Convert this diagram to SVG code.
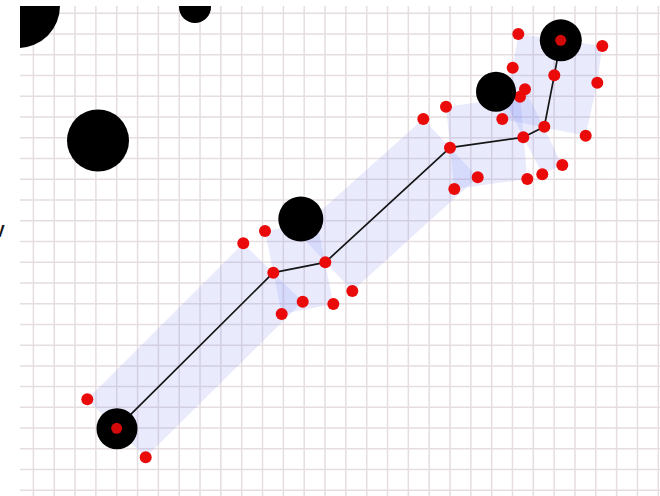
<svg xmlns="http://www.w3.org/2000/svg" width="660" height="496" viewBox="0 0 660 496">
<style>
.grid{stroke:#e6dde1;stroke-width:1.5;fill:none}
.strip{fill:#7480f0;fill-opacity:0.16;stroke:none}
.path{stroke:#151515;stroke-width:1.7;fill:none;stroke-linejoin:round}
.dot{fill:#ea0a0a}
.obs{fill:#000}
.cdot{fill:#d40a0a}
</style>
<defs>
<clipPath id="area"><rect x="20" y="6" width="640" height="490"/></clipPath>
</defs>
<rect x="0" y="0" width="660" height="496" fill="#fff"/>
<g id="grid" clip-path="url(#area)">
<path class="grid" d="M33.4 6V496M54.23 6V496M75.06 6V496M95.89 6V496M116.72 6V496M137.55 6V496M158.38 6V496M179.21 6V496M200.04 6V496M220.87 6V496M241.7 6V496M262.53 6V496M283.36 6V496M304.19 6V496M325.02 6V496M345.85 6V496M366.68 6V496M387.51 6V496M408.34 6V496M429.17 6V496M450 6V496M470.83 6V496M491.66 6V496M512.49 6V496M533.32 6V496M554.15 6V496M574.98 6V496M595.81 6V496M616.64 6V496M637.47 6V496M658.3 6V496"/>
<path class="grid" d="M20 13.3H660M20 34.04H660M20 54.78H660M20 75.52H660M20 96.26H660M20 117H660M20 137.74H660M20 158.48H660M20 179.22H660M20 199.96H660M20 220.7H660M20 241.44H660M20 262.18H660M20 282.92H660M20 303.66H660M20 324.4H660M20 345.14H660M20 365.88H660M20 386.62H660M20 407.36H660M20 428.1H660M20 448.84H660M20 469.58H660M20 490.32H660"/>
</g>
<text x="-6" y="237" font-family="Liberation Sans, Arial, sans-serif" font-weight="bold" font-size="16" fill="#111">V</text>
<g id="corridor">
<polygon class="strip" points="87.3,399.3 145.7,457.3 302.7,301.7 243.3,243.3"/>
<polygon class="strip" points="265,231 281.7,314 333.3,304 317,222"/>
<polygon class="strip" points="297.3,231.8 352.3,291 477.7,177.3 423.3,119"/>
<polygon class="strip" points="446,106.7 454.3,189 527.3,179 520,96.7"/>
<polygon class="strip" points="504.8,100.7 542.3,174.3 562.3,165 525,89.3"/>
<polygon class="strip" points="502.3,119 585.7,135.7 597.3,82.7 512.7,67.7"/>
<polygon class="strip" points="512.7,67.7 597.3,82.7 602.3,46 518.3,34"/>
</g>
<g id="connectors">
<polyline class="path" points="116.7,428.3 273.3,272.7 325.3,262.3 450,147.7 523.3,137.3 544.3,126.7 554.3,75.3 560.7,40.3"/>
</g>
<g id="waypoints">
<circle class="dot" cx="273.3" cy="272.7" r="6"/>
<circle class="dot" cx="325.3" cy="262.3" r="6"/>
<circle class="dot" cx="450" cy="147.7" r="6"/>
<circle class="dot" cx="523.3" cy="137.3" r="6"/>
<circle class="dot" cx="544.3" cy="126.7" r="6"/>
<circle class="dot" cx="554.3" cy="75.3" r="6"/>
</g>
<g id="corners">
<circle class="dot" cx="87.3" cy="399.3" r="6"/>
<circle class="dot" cx="145.7" cy="457.3" r="6"/>
<circle class="dot" cx="243.3" cy="243.3" r="6"/>
<circle class="dot" cx="302.7" cy="301.7" r="6"/>
<circle class="dot" cx="265" cy="231" r="6"/>
<circle class="dot" cx="281.7" cy="314" r="6"/>
<circle class="dot" cx="333.3" cy="304" r="6"/>
<circle class="dot" cx="352.3" cy="291" r="6"/>
<circle class="dot" cx="423.3" cy="119" r="6"/>
<circle class="dot" cx="477.7" cy="177.3" r="6"/>
<circle class="dot" cx="446" cy="106.7" r="6"/>
<circle class="dot" cx="454.3" cy="189" r="6"/>
<circle class="dot" cx="520" cy="96.7" r="6"/>
<circle class="dot" cx="527.3" cy="179" r="6"/>
<circle class="dot" cx="542.3" cy="174.3" r="6"/>
<circle class="dot" cx="525" cy="89.3" r="6"/>
<circle class="dot" cx="562.3" cy="165" r="6"/>
<circle class="dot" cx="502.3" cy="119" r="6"/>
<circle class="dot" cx="585.7" cy="135.7" r="6"/>
<circle class="dot" cx="512.7" cy="67.7" r="6"/>
<circle class="dot" cx="597.3" cy="82.7" r="6"/>
<circle class="dot" cx="518.3" cy="34" r="6"/>
<circle class="dot" cx="602.3" cy="46" r="6"/>
</g>
<g id="obstacles" clip-path="url(#area)">
<circle id="obs1" class="obs" cx="18" cy="6" r="42"/>
<circle id="obs2" class="obs" cx="195" cy="7" r="16"/>
<circle id="obs3" class="obs" cx="98" cy="140.5" r="31"/>
<circle id="obs4" class="obs" cx="300.8" cy="219" r="22.5"/>
<circle id="obs5" class="obs" cx="496" cy="91.7" r="20"/>
</g>
<g id="start">
<circle class="obs" cx="117" cy="428.7" r="20.5"/>
<circle class="cdot" cx="116.7" cy="428.3" r="5.5"/>
</g>
<g id="goal">
<circle class="obs" cx="560.8" cy="40.3" r="21"/>
<circle class="cdot" cx="560.7" cy="40.3" r="5.5"/>
</g>
</svg>
